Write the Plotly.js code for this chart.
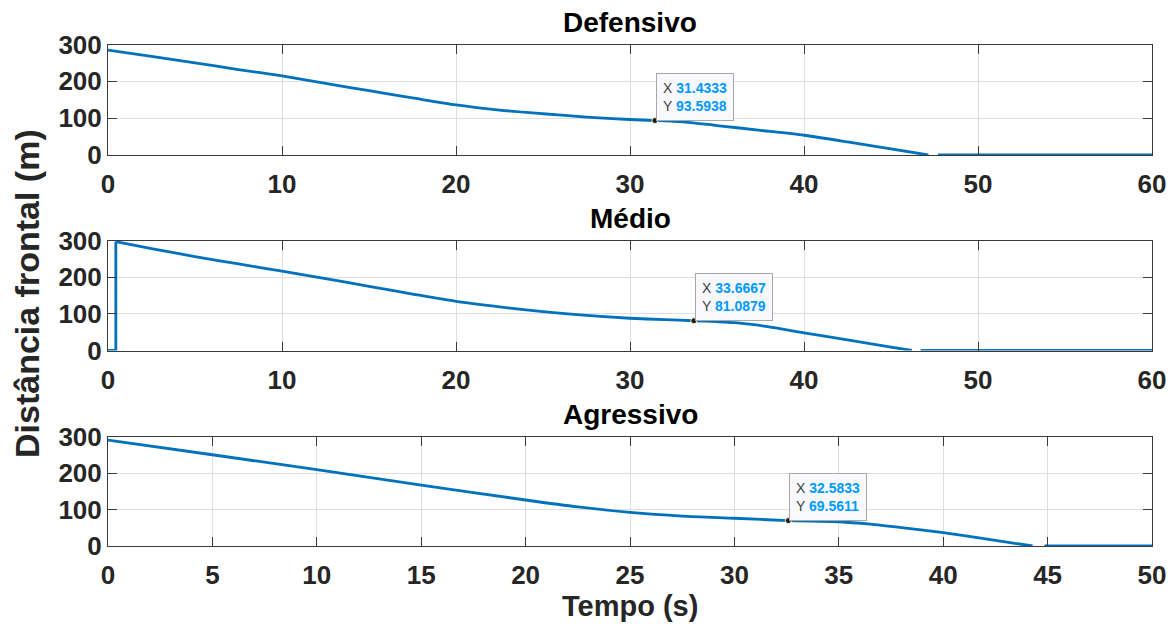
<!DOCTYPE html>
<html>
<head>
<meta charset="utf-8">
<script src="https://cdn.plot.ly/plotly-3.0.1.min.js"></script>
<style>
  html, body { margin: 0; padding: 0; background: #ffffff; }
  #chart { width: 1174px; height: 626px; }
</style>
</head>
<body>
<div id="chart"></div>
<script>
// Frontal distance to the obstacle over time, for three driving profiles.
// A null splits each curve where the logged signal has a short gap.

// Defensivo
const tempoDefensivo = [0, 2.5, 5, 7.5, 10, 12.5, 15, 17.5, 20, 22.5, 25, 27.5, 30, 31.4333, 32.5, 33.5, 35, 37.5, 40, 42.5, 45, 47.15, null, 47.7, 60];
const distDefensivo  = [285, 267.5, 250, 232, 214.5, 194.5, 174.5, 155, 136, 122, 112, 103, 96.4, 93.5938, 91.5, 88, 80, 67, 53.6, 35.5, 16.5, 0, null, 0, 0];

// Médio: short stretch at zero before the first reading arrives
const tempoMedioInicio = [0, 0.45, 0.45];
const distMedioInicio  = [0, 0, 297];
const tempoMedio = [0.45, 2.5, 5, 7.5, 10, 12.5, 15, 17.5, 20, 22.5, 25, 27.5, 30, 32, 33.6667, 35, 36, 37, 38, 40, 42.5, 45, 46.2, null, 46.7, 60];
const distMedio  = [297, 278, 256, 236, 216.5, 196, 175, 154, 134, 119, 106, 96, 88, 84, 81.0879, 78.5, 76, 71, 64.5, 48, 29, 9.5, 0, null, 0, 0];

// Agressivo
const tempoAgressivo = [0, 5, 10, 15, 20, 22.5, 25, 27.5, 30, 32.5833, 35, 36.5, 38, 40, 42.5, 44.28, null, 44.85, 50];
const distAgressivo  = [290, 250, 209, 167, 126, 107, 92, 82, 76, 69.5611, 66.5, 60, 50.5, 36.5, 15.2, 0, null, 0, 0];

// Data tips: [time, distance] of the marked sample in each panel
const tipDefensivo = [31.4333, 93.5938];
const tipMedio     = [33.6667, 81.0879];
const tipAgressivo = [32.5833, 69.5611];

const panelTitles = ['Defensivo', 'Médio', 'Agressivo'];
const xMaxima = [60, 60, 50];
const xPassos = [10, 10, 5];
const yTicks = [0, 100, 200, 300];

const FONT = 'Liberation Sans, Arial, Helvetica, sans-serif';
const INK = '#262626';
const LINE_BLUE = '#0072BD';
const TIP_BLUE = '#0099ff';

const W = 1174, H = 626;
const px = v => v / W;
const py = v => 1 - v / H;

// plot-area boxes in pixels: [top, bottom]
const boxes = [[44.5, 155], [240.5, 350.5], [436.5, 546]];
const xLeft = 108, xRight = 1152;

const series = [
  {curves: [[tempoDefensivo, distDefensivo]], tip: tipDefensivo},
  {curves: [[tempoMedioInicio, distMedioInicio, 'linear'], [tempoMedio, distMedio]], tip: tipMedio},
  {curves: [[tempoAgressivo, distAgressivo]], tip: tipAgressivo}
];

const traces = [];
const annotations = [];
const layout = {
  width: W, height: H,
  margin: {l: 0, r: 0, t: 0, b: 0},
  paper_bgcolor: '#ffffff',
  plot_bgcolor: '#ffffff',
  showlegend: false,
  font: {family: FONT, color: INK},
  annotations: annotations
};

series.forEach((s, i) => {
  const n = i === 0 ? '' : String(i + 1);
  const xa = 'x' + n, ya = 'y' + n;
  s.curves.forEach(c => {
    traces.push({
      x: c[0], y: c[1], xaxis: xa, yaxis: ya,
      type: 'scatter', mode: 'lines',
      line: {color: LINE_BLUE, width: 2.8, shape: c[2] || 'spline', smoothing: 0.7},
      connectgaps: false, hoverinfo: 'skip'
    });
  });
  traces.push({
    x: [s.tip[0]], y: [s.tip[1]], xaxis: xa, yaxis: ya,
    type: 'scatter', mode: 'markers',
    marker: {color: '#1a1a1a', size: 6, line: {color: '#fff6c8', width: 1}},
    hoverinfo: 'skip', cliponaxis: false
  });

  const axisCommon = {
    showline: true, linecolor: '#3a3a3a', linewidth: 1, mirror: 'ticks',
    ticks: 'inside', ticklen: 9, tickwidth: 1, tickcolor: '#3a3a3a',
    showgrid: true, gridcolor: '#dedede', gridwidth: 1,
    zeroline: false, fixedrange: true,
    tickfont: {family: FONT, size: 26, color: INK, weight: 'bold'}
  };
  layout['xaxis' + n] = Object.assign({}, axisCommon, {
    domain: [px(xLeft), px(xRight)],
    range: [0, xMaxima[i]], dtick: xPassos[i], tick0: 0,
    ticklabelstandoff: 6,
    anchor: ya
  });
  layout['yaxis' + n] = Object.assign({}, axisCommon, {
    domain: [py(boxes[i][1]), py(boxes[i][0])],
    range: [0, 300], tickvals: yTicks,
    anchor: xa
  });

  // panel title
  annotations.push({
    xref: 'paper', yref: 'paper',
    x: px((xLeft + xRight) / 2), y: py(boxes[i][0] - 22),
    xanchor: 'center', yanchor: 'middle', showarrow: false,
    text: '<b>' + panelTitles[i] + '</b>',
    font: {family: FONT, size: 28, color: '#000000'}
  });

  // data tip box
  annotations.push({
    xref: xa, yref: ya, x: s.tip[0], y: s.tip[1],
    xanchor: 'left', yanchor: 'bottom', showarrow: false,
    align: 'left',
    text: 'X <b><span style="color:' + TIP_BLUE + '">' + s.tip[0].toFixed(4) + '</span></b><br>' +
          'Y <b><span style="color:' + TIP_BLUE + '">' + s.tip[1].toFixed(4) + '</span></b>',
    font: {family: FONT, size: 14, color: '#404040'},
    bgcolor: '#f9f9fd', bordercolor: '#a8a8a8', borderwidth: 1, borderpad: 6,
    xshift: 1
  });
});

// shared axis titles
annotations.push({
  xref: 'paper', yref: 'paper', x: px(27), y: py(294),
  xanchor: 'center', yanchor: 'middle', showarrow: false, textangle: -90,
  text: '<b>Distância frontal (m)</b>',
  font: {family: FONT, size: 34, color: INK}
});
annotations.push({
  xref: 'paper', yref: 'paper', x: px((xLeft + xRight) / 2), y: py(606),
  xanchor: 'center', yanchor: 'middle', showarrow: false,
  text: '<b>Tempo (s)</b>',
  font: {family: FONT, size: 29, color: INK}
});

Plotly.newPlot('chart', traces, layout, {staticPlot: true, displayModeBar: false});
</script>
</body>
</html>
